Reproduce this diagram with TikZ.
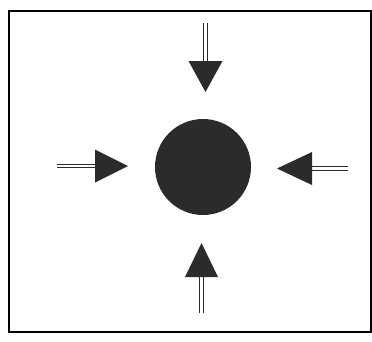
\documentclass[tikz,border=0pt]{standalone}
\usetikzlibrary{calc}
\definecolor{ink}{HTML}{2B2B2B}
\begin{document}
\begin{tikzpicture}[x=1pt,y=-1pt,
  frame/.style={draw=black,line width=2.6pt},
  ball/.style={circle,fill=ink,draw=none,minimum size=96pt,inner sep=0pt},
  rail/.style={draw=ink,line width=1.1pt},
  head/.style={fill=ink,draw=none}]
\useasboundingbox (0,0) rectangle (372,341);
\draw[frame] (9,11) -- (371,11) -- (371,332) -- (9,332) -- cycle;
\node[ball] (c) at (203,167) {};
% top arrow
\coordinate (t0) at (205.5,23);
\coordinate (tb) at (205.5,61);
\coordinate (tt) at (205.5,92);
\draw[rail] ([xshift=-1.8pt]t0) -- ([xshift=-1.8pt]tb);
\draw[rail] ([xshift=1.8pt]t0) -- ([xshift=1.8pt]tb);
\path[head] ($(tb)+(-17,0)$) -- ($(tb)+(17,0)$) -- (tt) -- cycle;
% left arrow
\coordinate (l0) at (57,166);
\coordinate (lb) at (95,166);
\coordinate (lt) at (128,166);
\draw[rail] ([yshift=-1.8pt]l0) -- ([yshift=-1.8pt]lb);
\draw[rail] ([yshift=1.8pt]l0) -- ([yshift=1.8pt]lb);
\path[head] ($(lb)+(0,-16.5)$) -- ($(lb)+(0,16.5)$) -- (lt) -- cycle;
% right arrow
\coordinate (r0) at (348,168.5);
\coordinate (rb) at (312,168.5);
\coordinate (rt) at (277,168.5);
\draw[rail] ([yshift=-1.8pt]r0) -- ([yshift=-1.8pt]rb);
\draw[rail] ([yshift=1.8pt]r0) -- ([yshift=1.8pt]rb);
\path[head] ($(rb)+(0,-16.5)$) -- ($(rb)+(0,16.5)$) -- (rt) -- cycle;
% bottom arrow
\coordinate (b0) at (201.5,313);
\coordinate (bb) at (201.5,277);
\coordinate (bt) at (201.5,243);
\draw[rail] ([xshift=-1.8pt]b0) -- ([xshift=-1.8pt]bb);
\draw[rail] ([xshift=1.8pt]b0) -- ([xshift=1.8pt]bb);
\path[head] ($(bb)+(-16.5,0)$) -- ($(bb)+(16.5,0)$) -- (bt) -- cycle;
\end{tikzpicture}
\end{document}
